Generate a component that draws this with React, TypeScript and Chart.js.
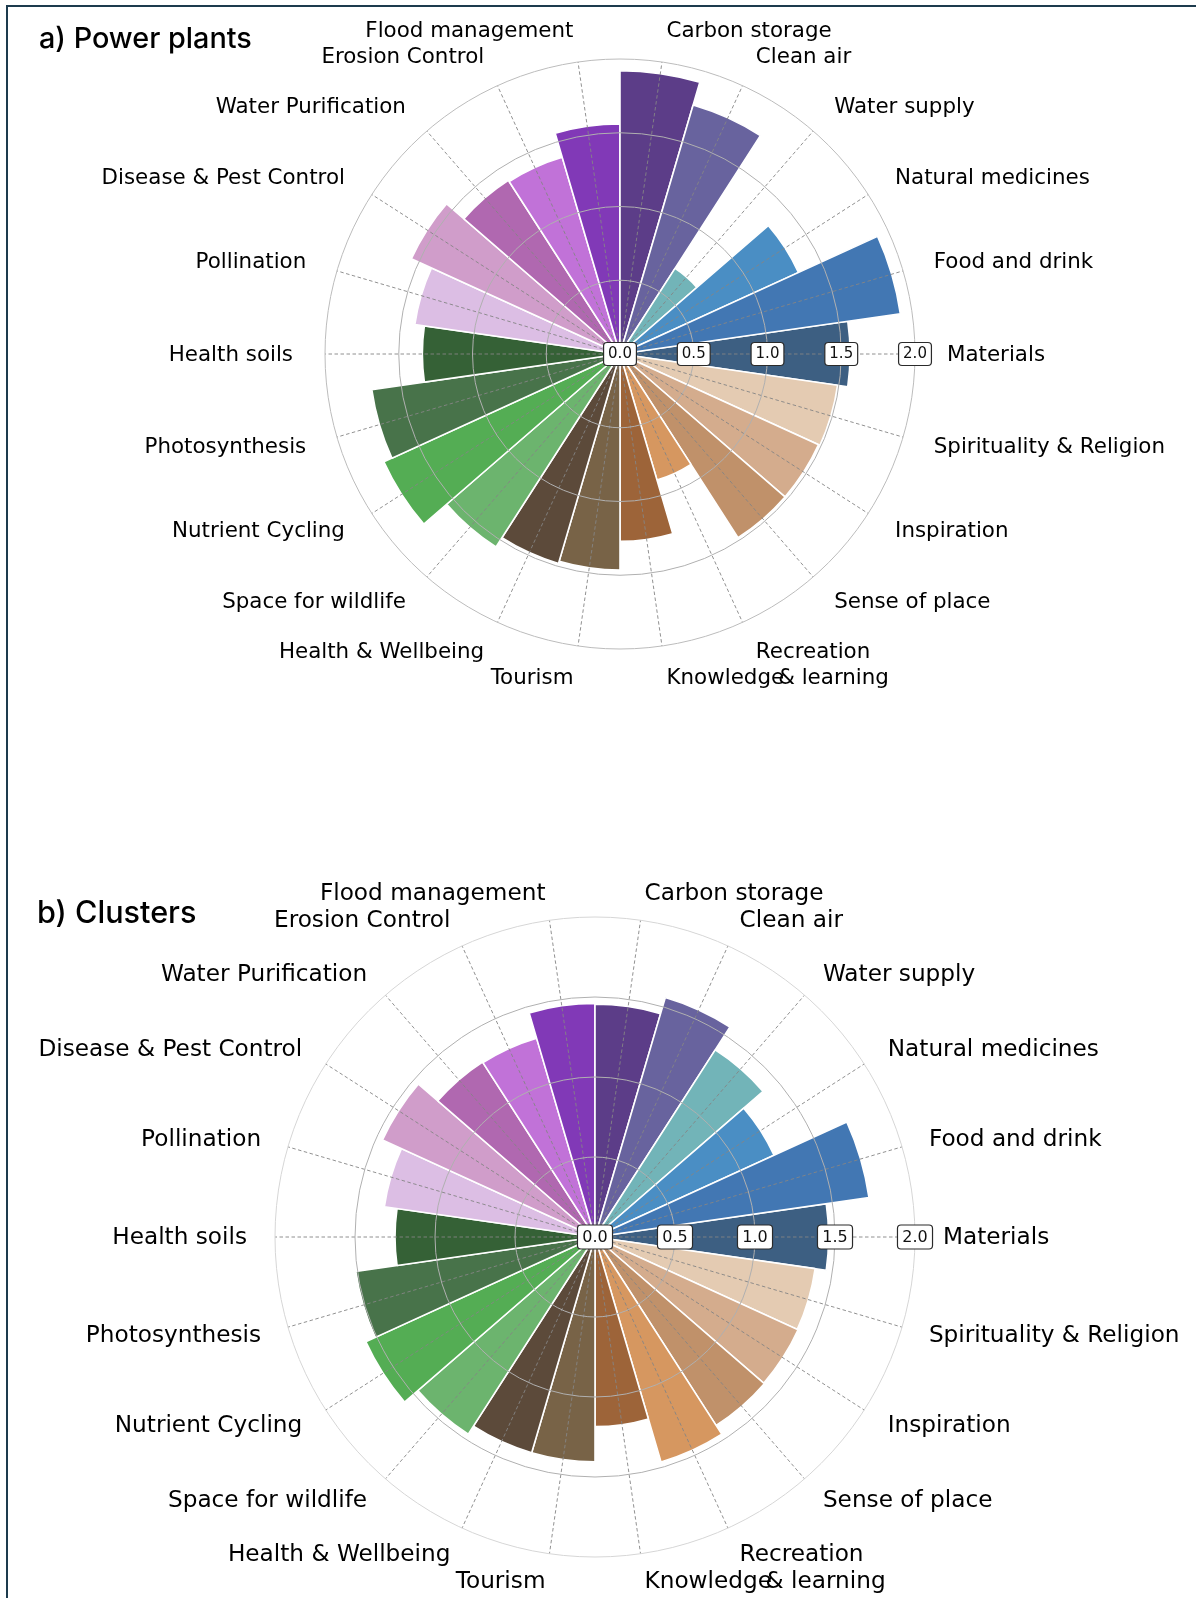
import React, { useEffect, useRef } from 'react';
import { Chart, registerables } from 'chart.js';

Chart.register(...registerables);

// Categories listed counter-clockwise starting at the east (Materials)
const CATEGORIES = [
  'Materials', 'Food and drink', 'Natural medicines', 'Water supply', 'Clean air',
  'Carbon storage', 'Flood management', 'Erosion Control', 'Water Purification',
  'Disease & Pest Control', 'Pollination', 'Health soils', 'Photosynthesis',
  'Nutrient Cycling', 'Space for wildlife', 'Health & Wellbeing', 'Tourism',
  'Knowledge & learning', 'Recreation', 'Sense of place', 'Inspiration',
  'Spirituality & Religion',
];

const POWER_PLANTS = [
  1.56, 1.92, 1.33, 0.69, 1.76, 1.92, 1.56, 1.39, 1.40, 1.555, 1.405,
  1.34, 1.70, 1.76, 1.555, 1.48, 1.465, 1.27, 0.89, 1.48, 1.48, 1.49,
];

const CLUSTERS = [
  1.46, 1.73, 1.23, 1.39, 1.56, 1.455, 1.46, 1.295, 1.30, 1.46, 1.33,
  1.25, 1.51, 1.575, 1.465, 1.405, 1.405, 1.185, 1.465, 1.40, 1.395, 1.39,
];

const COLORS = [
  '#3d5f82', '#4277b3', '#4a8ec4', '#72b4b8', '#68639e', '#5c3d88',
  '#8139b7', '#c172d8', '#b068b0', '#d09dca', '#dcbee4', '#356136',
  '#48734a', '#54ad54', '#6cb46e', '#5c4a3a', '#786347', '#9d6439',
  '#d69760', '#c0916a', '#d4ac8d', '#e4cbb2',
];

const TICKS = [0, 0.5, 1.0, 1.5, 2.0];
const TICK_LABELS = ['0.0', '0.5', '1.0', '1.5', '2.0'];
const OVERLAP_LABEL = 'Knowledge & learning';

// Chart.js draws clockwise, so reorder: Materials, then going clockwise
const N = CATEGORIES.length;
const ORDER = CATEGORIES.map((_, j) => (N - j) % N);

const overlayPlugin = {
  id: 'overlay',
  afterDatasetsDraw(chart: any, _args: any, opts: any) {
    const s = chart.scales.r;
    const ctx = chart.ctx;
    const n = chart.data.labels.length;
    const half = Math.PI / n;
    const rMax = s.getDistanceFromCenterForValue(TICKS[TICKS.length - 1]);
    ctx.save();
    ctx.strokeStyle = opts.dashColor;
    ctx.lineWidth = 0.9;
    ctx.setLineDash([3.5, 2.5]);
    for (let j = 0; j < n; j++) {
      const p = s.getPointPosition(j, rMax, half);
      ctx.beginPath();
      ctx.moveTo(s.xCenter, s.yCenter);
      ctx.lineTo(p.x, p.y);
      ctx.stroke();
    }
    ctx.restore();
  },
  afterDraw(chart: any, _args: any, opts: any) {
    const s = chart.scales.r;
    const ctx = chart.ctx;
    const n = chart.data.labels.length;
    const half = Math.PI / n;
    ctx.save();
    // tick boxes along the east direction
    ctx.font = `${opts.tickSize}px "DejaVu Sans"`;
    ctx.textAlign = 'center';
    ctx.textBaseline = 'middle';
    TICKS.forEach((v, i) => {
      const d = s.getDistanceFromCenterForValue(v);
      const x = s.xCenter + d;
      const y = s.yCenter;
      const tw = ctx.measureText(TICK_LABELS[i]).width;
      const w = tw + opts.tickSize * 0.6;
      const h = opts.tickSize + 8;
      ctx.beginPath();
      ctx.roundRect(x - w / 2, y - h / 2, w, h, 3.5);
      ctx.fillStyle = '#ffffff';
      ctx.fill();
      ctx.lineWidth = 1.2;
      ctx.strokeStyle = '#2a2a2a';
      ctx.stroke();
      ctx.fillStyle = '#111';
      ctx.fillText(TICK_LABELS[i], x, y + 0.5);
    });
    // category labels
    ctx.font = `${opts.labelSize}px "DejaVu Sans"`;
    ctx.fillStyle = '#000';
    ctx.textBaseline = 'middle';
    for (let j = 0; j < n; j++) {
      const label = chart.data.labels[j];
      const p = s.getPointPosition(j, opts.labelRadius, half);
      const c = (p.x - s.xCenter) / opts.labelRadius;
      const align = c > 0.01 ? 'left' : c < -0.01 ? 'right' : 'center';
      ctx.textAlign = align;
      const y = p.y + 1;
      if (label === OVERLAP_LABEL && align === 'left') {
        ctx.fillText('Knowledge', p.x, y);
        const off = ctx.measureText('Knowledg').width + 0.55 * ctx.measureText('e').width;
        ctx.fillText('& learning', p.x + off, y);
      } else {
        ctx.fillText(label, p.x, y);
      }
    }
    ctx.restore();
  },
};

type PolarProps = {
  values: number[];
  width: number;
  height: number;
  top: number;
  padding: { left: number; right: number; top: number; bottom: number };
  labelSize: number;
  tickSize: number;
  labelRadius: number;
  outerGrid: string;
};

function PolarChart(props: PolarProps) {
  const ref = useRef<HTMLCanvasElement>(null);
  useEffect(() => {
    if (!ref.current) return;
    const labels = ORDER.map((k) => CATEGORIES[k]);
    const data = ORDER.map((k) => props.values[k]);
    const colors = ORDER.map((k) => COLORS[k]);
    const chart = new Chart(ref.current, {
      type: 'polarArea',
      data: {
        labels,
        datasets: [
          {
            data,
            backgroundColor: colors,
            borderColor: '#ffffff',
            borderWidth: 1.6,
          },
        ],
      },
      options: {
        responsive: false,
        maintainAspectRatio: false,
        animation: false,
        layout: { padding: props.padding },
        plugins: {
          legend: { display: false },
          tooltip: { enabled: false },
          overlay: {
            dashColor: '#858585',
            labelSize: props.labelSize,
            tickSize: props.tickSize,
            labelRadius: props.labelRadius,
          },
        } as any,
        scales: {
          r: {
            min: 0,
            max: 2,
            startAngle: 90 - 180 / N,
            ticks: { display: false, stepSize: 0.5, z: 1 },
            grid: {
              display: true,
              circular: true,
              z: 1,
              lineWidth: 1,
              color: (c: any) => (c.tick && c.tick.value >= 2 ? props.outerGrid : '#b0b0b0'),
            },
            angleLines: { display: false },
            pointLabels: { display: false },
          } as any,
        },
      },
      plugins: [overlayPlugin as any],
    });
    return () => chart.destroy();
  }, []);
  return (
    <canvas
      ref={ref}
      width={props.width}
      height={props.height}
      style={{ position: 'absolute', left: 0, top: props.top, width: props.width, height: props.height, display: 'block' }}
    />
  );
}

export default function App() {
  return (
    <div
      style={{
        position: 'absolute',
        left: 0,
        top: 0,
        width: 1196,
        height: 1598,
        background: '#ffffff',
        overflow: 'hidden',
      }}
    >
      <div
        style={{
          position: 'absolute',
          left: 6,
          top: 5,
          width: 1196,
          height: 1600,
          borderTop: '2px solid #1d3b4d',
          borderLeft: '2px solid #1d3b4d',
          boxSizing: 'border-box',
        }}
      />
      <PolarChart
        values={POWER_PLANTS}
        width={1196}
        height={780}
        top={0}
        padding={{ left: 325, right: 281, top: 59, bottom: 131 }}
        labelSize={21.4}
        tickSize={15}
        labelRadius={327}
        outerGrid="#bcbcbc"
      />
      <PolarChart
        values={CLUSTERS}
        width={1196}
        height={798}
        top={800}
        padding={{ left: 275, right: 281, top: 117, bottom: 41 }}
        labelSize={23.2}
        tickSize={16}
        labelRadius={348}
        outerGrid="#d6d6d6"
      />
      <div
        style={{
          position: 'absolute',
          left: 39,
          top: 38,
          transform: 'translateY(-50%)',
          fontFamily: 'Inter, sans-serif',
          fontSize: 28.8,
          fontWeight: 500,
          lineHeight: 1,
          color: '#000',
          whiteSpace: 'nowrap',
        }}
      >
        a) Power plants
      </div>
      <div
        style={{
          position: 'absolute',
          left: 37,
          top: 912,
          transform: 'translateY(-50%)',
          fontFamily: 'Inter, sans-serif',
          fontSize: 30.6,
          fontWeight: 500,
          lineHeight: 1,
          color: '#000',
          whiteSpace: 'nowrap',
        }}
      >
        b) Clusters
      </div>
    </div>
  );
}
